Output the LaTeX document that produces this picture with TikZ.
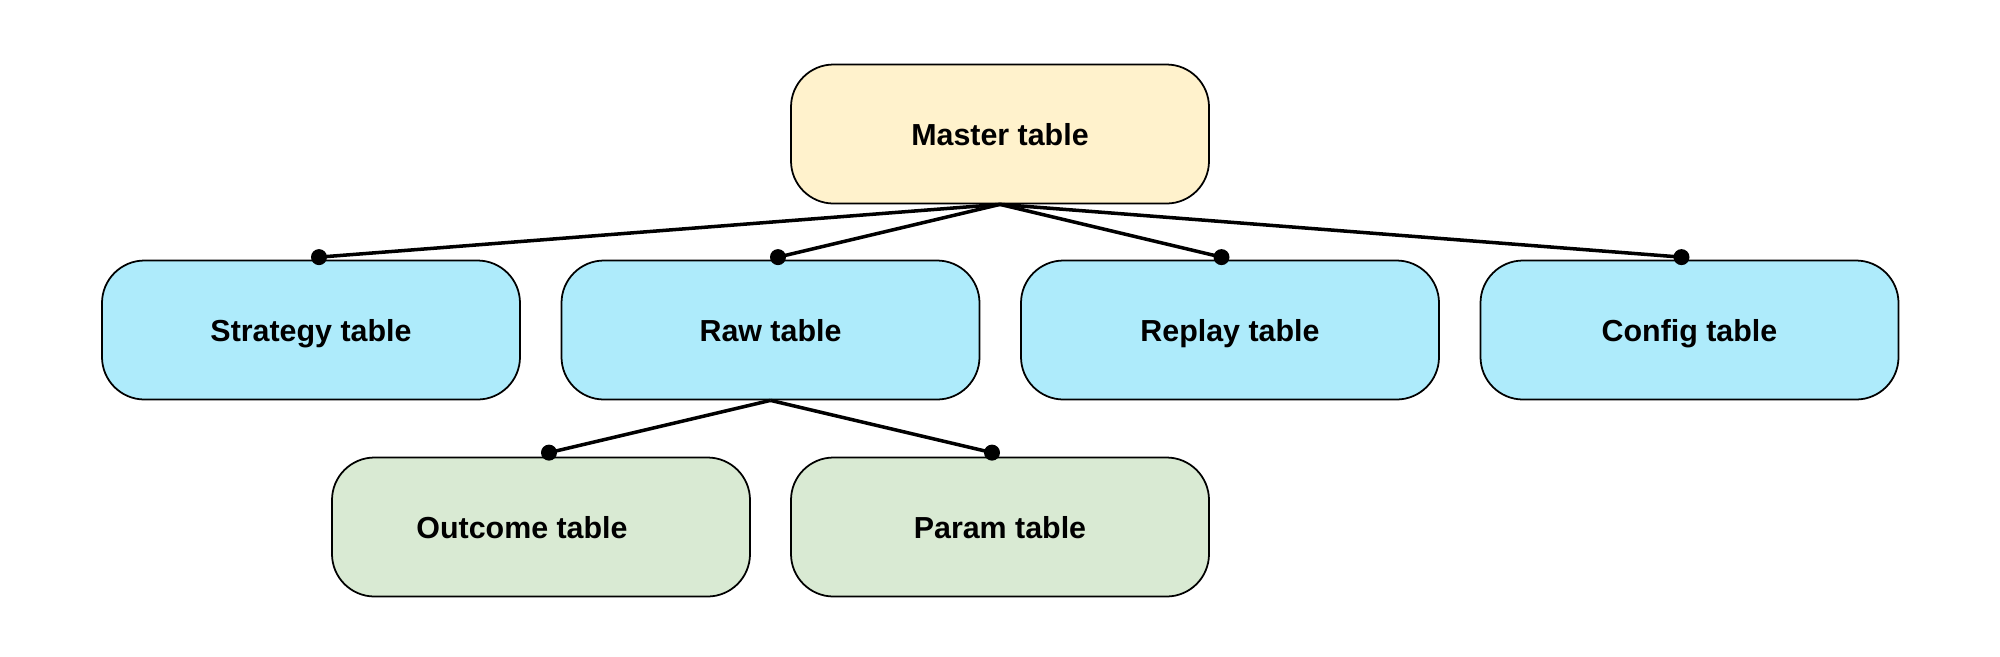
\documentclass[tikz,border=0pt]{standalone}
\usepackage{fontspec}
\setmainfont{Liberation Sans}
\usepackage{tikz}
\usetikzlibrary{shapes,arrows}

\definecolor{master_color}{HTML}{FFF2CC}
\definecolor{child_color}{HTML}{AEEBFB}
\definecolor{leaf_color}{HTML}{D9EAD3}

\begin{document}
\begin{tikzpicture}[line width=1pt, every node/.style={font=\fontsize{17.3}{20}\selectfont\bfseries}]
	\tikzstyle{table_style}=[rectangle, draw, rounded corners=0.85cm, minimum height = 2.78cm, minimum width = 8.36cm, inner sep=0pt, text height=13pt, text depth=0pt]
	\tikzstyle{link_style}=[line width=2pt]
	\useasboundingbox (0,0) rectangle (40,-13.12);
	
	% master
	\node at (20, -2.68) [table_style, fill=master_color] (master) {Master table};
	
	% children
	\foreach \x/\name/\txt in {0/strategy/Strategy, 1/raw/Raw, 2/replay/Replay, 3/config/Config}
		\node at (6.22 + 9.19*\x, -6.6) [table_style, fill=child_color] (\name) {\txt\ table};
	
	% leaves
	\node at (10.82, -10.54) [table_style, fill=leaf_color] (outcome) {Outcome table\hspace*{0.76cm}};
	\node at (20, -10.54) [table_style, fill=leaf_color] (param) {Param table};
	
	% connect: master -> children
	\foreach \name/\dx in {strategy/0.16, raw/0.15, replay/-0.17, config/-0.16}
	{
		\draw[link_style] (master.south) -- ([xshift=\dx cm, yshift=0.05cm]\name.north) coordinate (dot_\name);
		\fill (dot_\name) circle (0.16cm);
	}
	
	% connect: raw -> leaves
	\foreach \name/\dx in {outcome/0.16, param/-0.16}
	{
		\draw[link_style] (raw.south) -- ([xshift=\dx cm, yshift=0.08cm]\name.north) coordinate (dot_\name);
		\fill (dot_\name) circle (0.16cm);
	}
	
\end{tikzpicture}
\end{document}
